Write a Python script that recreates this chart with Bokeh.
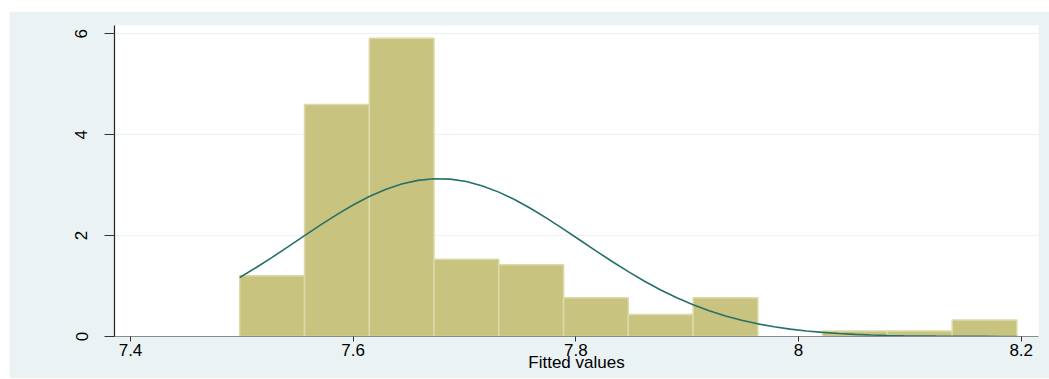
from bokeh.plotting import figure
from bokeh.models import ColumnDataSource, FixedTicker, Range1d
from bokeh.embed import file_html
from bokeh.resources import INLINE

# ---- data ----
bin_edges = [7.4981, 7.5563, 7.6145, 7.6726, 7.7308, 7.7890, 7.8471,
             7.9053, 7.9635, 8.0216, 8.0798, 8.1380, 8.1961]
density = [1.205, 4.599, 5.913, 1.533, 1.424, 0.767, 0.438, 0.767,
           0.0, 0.110, 0.110, 0.329]

curve_x = [7.4981, 7.5126, 7.5272, 7.5417, 7.5563, 7.5708, 7.5853, 7.5999,
           7.6144, 7.6290, 7.6435, 7.6581, 7.6726, 7.6871, 7.7017, 7.7162,
           7.7308, 7.7453, 7.7599, 7.7744, 7.7889, 7.8035, 7.8180, 7.8326,
           7.8471, 7.8617, 7.8762, 7.8907, 7.9053, 7.9198, 7.9344, 7.9489,
           7.9635, 7.9780, 7.9925, 8.0071, 8.0216, 8.0362, 8.0507, 8.0653,
           8.0798, 8.0943, 8.1089, 8.1234, 8.1380, 8.1525, 8.1671, 8.1816,
           8.1961]
curve_y = [1.169, 1.363, 1.569, 1.782, 1.999, 2.212, 2.416, 2.606,
           2.774, 2.915, 3.023, 3.095, 3.127, 3.119, 3.071, 2.984,
           2.862, 2.711, 2.533, 2.337, 2.129, 1.913, 1.698, 1.486,
           1.285, 1.096, 0.923, 0.768, 0.630, 0.510, 0.408, 0.322,
           0.251, 0.193, 0.146, 0.110, 0.0811, 0.0591, 0.0426, 0.0303,
           0.0213, 0.0148, 0.0101, 0.0068, 0.0045, 0.0030, 0.0019, 0.0012,
           0.0008]

x_ticks = [7.4, 7.6, 7.8, 8.0, 8.2]
x_tick_labels = {7.4: "7.4", 7.6: "7.6", 7.8: "7.8", 8.0: "8", 8.2: "8.2"}
y_ticks = [0, 2, 4, 6]
x_title = "Fitted values"

# ---- styling ----
BG = "#EAF2F3"
FONT = "Liberation Sans"

lefts = [bin_edges[i] for i in range(len(density)) if density[i] > 0]
rights = [bin_edges[i + 1] for i in range(len(density)) if density[i] > 0]
tops = [d for d in density if d > 0]
src = ColumnDataSource(dict(left=lefts, right=rights, top=tops,
                            bottom=[0] * len(tops)))

p = figure(width=1040, height=367, output_backend="svg", toolbar_location=None,
           x_range=Range1d(7.38563, 8.21553), y_range=Range1d(0, 6.165),
           min_border_left=105, min_border_right=11, min_border_top=14,
           min_border_bottom=42)
p.margin = (11, 0, 1, 9)
p.border_fill_color = BG
p.background_fill_color = "white"
p.outline_line_color = None

p.quad(left="left", right="right", top="top", bottom="bottom", source=src,
       fill_color="#C9C380", line_color="#DDDAA9", line_width=1.5)
p.line(curve_x, curve_y, line_color="#26706A", line_width=1.6)

# grid
p.xgrid.visible = False
p.ygrid.ticker = FixedTicker(ticks=[2, 4, 6])
p.ygrid.grid_line_color = BG
p.ygrid.grid_line_width = 1.2

# x axis
xa = p.xaxis[0]
xa.ticker = FixedTicker(ticks=x_ticks)
xa.major_label_overrides = x_tick_labels
xa.axis_line_color = "#8A8A8A"
xa.major_tick_line_color = "#333333"
xa.major_tick_out = 5
xa.major_tick_in = 0
xa.minor_tick_line_color = None
xa.major_label_standoff = 2
xa.major_label_text_font = FONT
xa.major_label_text_font_size = "17px"
xa.major_label_text_color = "black"
xa.axis_label = x_title
xa.axis_label_text_font = FONT
xa.axis_label_text_font_size = "17px"
xa.axis_label_text_font_style = "normal"
xa.axis_label_text_color = "black"
xa.axis_label_standoff = -6

# y axis
ya = p.yaxis[0]
ya.ticker = FixedTicker(ticks=y_ticks)
ya.axis_line_color = "#222222"
ya.axis_line_width = 1.2
ya.major_tick_line_color = "#333333"
ya.major_tick_out = 10
ya.major_tick_in = 0
ya.minor_tick_line_color = None
ya.major_label_orientation = "vertical"
ya.major_label_standoff = 17
ya.major_label_text_font = FONT
ya.major_label_text_font_size = "17px"
ya.major_label_text_color = "black"

open("out.html", "w").write(file_html(p, INLINE))
